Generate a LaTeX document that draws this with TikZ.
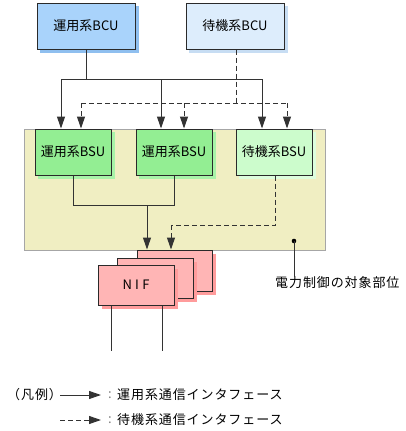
\documentclass[tikz,border=0pt]{standalone}
\usepackage{fontspec}
\setmainfont{Noto Sans CJK JP}
\usetikzlibrary{arrows.meta,calc}
\definecolor{edge}{HTML}{2A2A2A}
\definecolor{wire}{HTML}{333333}
\definecolor{bcuA}{HTML}{A9D3FB}
\definecolor{bcuAsh}{HTML}{8FBFEF}
\definecolor{bcuB}{HTML}{DDEDFC}
\definecolor{bcuBsh}{HTML}{C7DDF3}
\definecolor{bsuA}{HTML}{93EE93}
\definecolor{bsuAsh}{HTML}{A8F3A8}
\definecolor{bsuB}{HTML}{CCFCCC}
\definecolor{bsuBsh}{HTML}{DDFDDD}
\definecolor{nifc}{HTML}{FFB5B5}
\definecolor{nifsh}{HTML}{FF9C9C}
\definecolor{zone}{HTML}{F0EEC2}
\tikzset{
  box/.style={draw=edge, line width=1pt, inner sep=0pt, font=\fontsize{13}{15}\selectfont},
  bcubox/.style={box, minimum width=98pt, minimum height=46pt},
  bsubox/.style={box, minimum width=76pt, minimum height=46pt},
  nifbox/.style={box, fill=nifc, minimum width=76pt, minimum height=40pt},
  wireline/.style={draw=wire, line width=1pt},
  arr/.style={wireline, -{Triangle[length=12pt,width=8pt]}},
  darr/.style={arr, dash pattern=on 5pt off 3pt},
  dline/.style={wireline, dash pattern=on 5pt off 3pt},
  lbl/.style={font=\fontsize{13}{15}\selectfont\addfontfeature{LetterSpace=7}, inner sep=0pt, anchor=west},
}
\begin{document}
\begin{tikzpicture}[x=1pt,y=-1pt]
\useasboundingbox (0,0) rectangle (405,431);
% zone
\fill[zone, draw=gray!70, line width=0.7pt] (24,129) rectangle (325,250);
% shadows
\fill[bcuAsh] (40,6) rectangle (139,53);
\fill[bcuBsh] (189,6) rectangle (288,53);
\fill[bsuAsh] (38,132) rectangle (115,179);
\fill[bsuAsh] (139,132) rectangle (216,179);
\fill[bsuBsh] (239,132) rectangle (316,179);
% BCU
\node[bcubox, fill=bcuA] (bcu1) at (86,26) {運用系BCU};
\node[bcubox, fill=bcuB] (bcu2) at (235,26) {待機系BCU};
% BSU
\node[bsubox, fill=bsuA] (bsu1) at (73,152) {運用系BSU};
\node[bsubox, fill=bsuA] (bsu2) at (174,152) {運用系BSU};
\node[bsubox, fill=bsuB] (bsu3) at (274,152) {待機系BSU};
% NIF stack
\fill[nifsh] (141,254) rectangle (216,295);
\node[nifbox, minimum width=75pt, minimum height=41pt] (nif3) at (174.5,270.5) {};
\fill[nifsh] (121,262) rectangle (197,302);
\node[nifbox] (nif2) at (155,278) {};
\fill[nifsh] (102,269) rectangle (178,309);
\node[nifbox, font=\fontsize{13}{15}\selectfont\addfontfeature{LetterSpace=25}] (nif1) at (136,285) {NIF};
% solid bus from active BCU
\coordinate (j1) at ($(bcu1.south)+(0,30)$);
\coordinate (b1) at (61,79);
\coordinate (b2) at (161,79);
\coordinate (b3) at (262,79);
\draw[wireline] (bcu1.south) -- (j1);
\draw[wireline] (b1) -- (b3);
\draw[arr] (b1) -- (b1 |- bsu1.north);
\draw[arr] (b2) -- (b2 |- bsu2.north);
\draw[arr] (b3) -- (b3 |- bsu3.north);
% dashed bus from standby BCU
\coordinate (k1) at (236,103);
\coordinate (d1) at (81,103);
\coordinate (d2) at (184,103);
\coordinate (d3) at (287,103);
\draw[dline] (bcu2.south -| k1) -- (k1);
\draw[dline] (d1) -- (d3);
\draw[darr] (d1) -- (d1 |- bsu1.north);
\draw[darr] (d2) -- (d2 |- bsu2.north);
\draw[darr] (d3) -- (d3 |- bsu3.north);
% BSU to NIF
\coordinate (s1) at ($(bsu1.south)+(0,30)$);
\coordinate (s2) at ($(bsu2.south)+(0,30)$);
\coordinate (sm) at (147,205);
\draw[wireline] (bsu1.south) -- (s1) -- (s2) -- (bsu2.south);
\draw[arr] (sm) -- (sm |- nif3.north);
\coordinate (t1) at (275,225);
\coordinate (t2) at (171,225);
\draw[dline] (bsu3.south -| t1) -- (t1) -- (t2);
\draw[darr] (t2) -- (t2 |- nif3.north);
% NIF lines
\coordinate (n1) at (111,351);
\coordinate (n2) at (162,351);
\draw[wireline] (nif1.south -| n1) -- (n1);
\draw[wireline] (nif1.south -| n2) -- (n2);
% power control label
\coordinate (dot) at (294,241);
\node[lbl] (pc) at (275,283) {電力制御の対象部位};
\fill[black] (dot) circle (2.3pt);
\draw[wireline] (dot) -- (dot |- pc.north) ;
% legend
\node[lbl] (lg) at (7,395) {（凡例）};
\coordinate (la1) at (60,395);
\coordinate (la2) at (101,395);
\draw[arr] (la1) -- (la2);
\node[lbl, text=gray] (c1) at (108,395) {:};
\node[lbl] (l1) at (117,395) {運用系通信インタフェース};
\coordinate (lb1) at (60,420);
\coordinate (lb2) at (101,420);
\draw[darr] (lb1) -- (lb2);
\node[lbl, text=gray] (c2) at (108,420) {:};
\node[lbl] (l2) at (117,420) {待機系通信インタフェース};
\end{tikzpicture}
\end{document}
